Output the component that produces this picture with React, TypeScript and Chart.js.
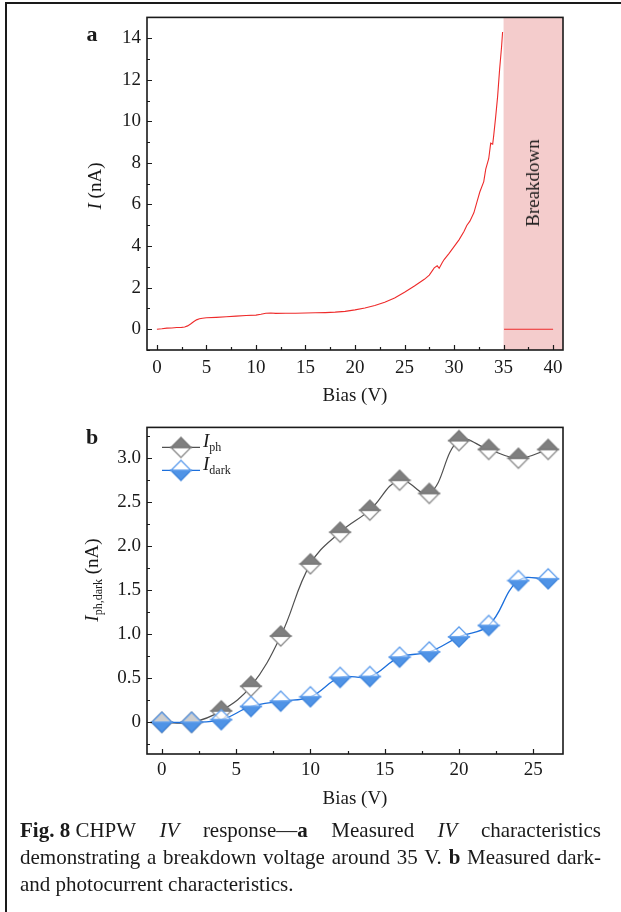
import React, { useEffect, useRef } from 'react';
import { Chart, registerables } from 'chart.js';

Chart.register(...registerables);

// ---------- Panel a: IV curve ----------
const ivBias = [
  0, 0.5, 1, 1.5, 2, 2.5, 2.8, 3.1, 3.4, 3.7, 4.0, 4.3, 4.6, 5, 6, 7, 8, 9, 10, 10.5,
  11, 11.5, 12, 13, 14, 15, 16, 17, 18, 19, 20, 21, 22, 23, 24, 25, 26, 27, 27.5, 28,
  28.3, 28.5, 28.8, 29, 29.5, 30, 30.5, 31, 31.3, 31.6, 32, 32.3, 32.6, 33, 33.2, 33.5,
  33.7, 33.9, 34.0, 34.2, 34.4, 34.6, 34.8, 34.9,
];
const ivCurrent = [
  0.0, 0.02, 0.05, 0.06, 0.08, 0.09, 0.11, 0.16, 0.25, 0.36, 0.45, 0.5, 0.53, 0.55, 0.57, 0.6, 0.63, 0.66, 0.68, 0.72,
  0.77, 0.78, 0.76, 0.77, 0.77, 0.78, 0.79, 0.8, 0.82, 0.86, 0.93, 1.02, 1.14, 1.3, 1.5, 1.78, 2.08, 2.4, 2.6, 2.95,
  3.05, 2.93, 3.2, 3.35, 3.65, 3.97, 4.3, 4.7, 5.0, 5.2, 5.6, 6.1, 6.6, 7.1, 7.7, 8.2,
  8.95, 8.9, 9.3, 10.2, 11.2, 12.5, 13.6, 14.3,
];
const breakdownBias = [35.05, 40];
const breakdownCurrent = [0, 0];
const breakdownStart = 35;

const xTicksA = [0, 5, 10, 15, 20, 25, 30, 35, 40];
const yTicksA = [0, 2, 4, 6, 8, 10, 12, 14];

// ---------- Panel b: photo / dark current ----------
const biasB = [0, 2, 4, 6, 8, 10, 12, 14, 16, 18, 20, 22, 24, 26];
const iPh = [0, 0, 0.13, 0.41, 0.98, 1.8, 2.16, 2.41, 2.75, 2.6, 3.2, 3.1, 3.0, 3.1];
const iDark = [0, 0, 0.03, 0.18, 0.24, 0.29, 0.51, 0.52, 0.74, 0.8, 0.97, 1.1, 1.61, 1.63];

const xTicksB = [0, 5, 10, 15, 20, 25];
const yTicksB = [0, 0.5, 1, 1.5, 2, 2.5, 3];

const FONT = '"Liberation Serif", "Times New Roman", serif';
const TEXT = '#1a1a1a';

function makeDiamond(r: number, topFill: string, topStroke: string, botFill: string, botStroke: string) {
  const size = 2 * r + 4;
  const c = document.createElement('canvas');
  c.width = size;
  c.height = size;
  const ctx = c.getContext('2d')!;
  const m = size / 2;
  ctx.lineWidth = 1.3;
  ctx.lineJoin = 'miter';
  // bottom half
  ctx.beginPath();
  ctx.moveTo(m - r, m);
  ctx.lineTo(m, m + r);
  ctx.lineTo(m + r, m);
  ctx.closePath();
  ctx.fillStyle = botFill;
  ctx.fill();
  ctx.strokeStyle = botStroke;
  ctx.stroke();
  // top half
  ctx.beginPath();
  ctx.moveTo(m - r, m);
  ctx.lineTo(m, m - r);
  ctx.lineTo(m + r, m);
  ctx.closePath();
  ctx.fillStyle = topFill;
  ctx.fill();
  ctx.strokeStyle = topStroke;
  ctx.stroke();
  return c;
}

function frameTicks(majorX: number, minorX: number, majorY: number, minorY: number) {
  return {
    id: 'frameTicks',
    afterDraw(chart: any) {
      const { ctx, chartArea: ca } = chart;
      const x = chart.scales.x;
      const y = chart.scales.y;
      ctx.save();
      ctx.strokeStyle = '#1a1a1a';
      ctx.lineWidth = 1.2;
      ctx.beginPath();
      const loopX = (step: number, len: number) => {
        for (let v = Math.ceil(x.min / step) * step; v <= x.max + 1e-9; v += step) {
          const px = Math.round(x.getPixelForValue(v)) + 0.5;
          ctx.moveTo(px, ca.bottom);
          ctx.lineTo(px, ca.bottom - len);
        }
      };
      const loopY = (step: number, len: number) => {
        for (let v = Math.ceil(y.min / step) * step; v <= y.max + 1e-9; v += step) {
          const py = Math.round(y.getPixelForValue(v)) + 0.5;
          ctx.moveTo(ca.left, py);
          ctx.lineTo(ca.left + len, py);
        }
      };
      loopX(minorX, 3);
      loopX(majorX, 5);
      loopY(minorY, 3);
      loopY(majorY, 5);
      ctx.stroke();
      ctx.lineWidth = 1.6;
      ctx.strokeRect(ca.left, ca.top, ca.right - ca.left, ca.bottom - ca.top);
      ctx.restore();
    },
  };
}

const breakdownShade = {
  id: 'breakdownShade',
  beforeDatasetsDraw(chart: any) {
    const { ctx, chartArea: ca } = chart;
    const x0 = chart.scales.x.getPixelForValue(breakdownStart);
    ctx.save();
    ctx.fillStyle = '#f4cccc';
    ctx.fillRect(x0, ca.top, ca.right - x0, ca.bottom - ca.top);
    ctx.restore();
  },
};

function scaleOpts(min: number, max: number, ticks: number[], fmt: (v: number) => string, isX: boolean, pad: number) {
  return {
    type: 'linear' as const,
    min,
    max,
    afterBuildTicks: (s: any) => {
      s.ticks = ticks.map((v) => ({ value: v }));
    },
    afterFit: (s: any) => {
      if (isX) s.height = 50;
      else s.width = 60;
    },
    grid: { display: false, drawTicks: false },
    border: { display: false },
    ticks: {
      autoSkip: false,
      maxRotation: 0,
      padding: pad,
      color: TEXT,
      font: { family: FONT, size: 19 },
      callback: (v: any) => fmt(Number(v)),
    },
  };
}

export default function App() {
  const refA = useRef<HTMLCanvasElement>(null);
  const refB = useRef<HTMLCanvasElement>(null);

  useEffect(() => {
    const chartA = new Chart(refA.current!, {
      type: 'line',
      data: {
        datasets: [
          {
            data: ivBias.map((b, i) => ({ x: b, y: ivCurrent[i] })),
            borderColor: '#ee2b2b',
            borderWidth: 1.1,
            pointRadius: 0,
            tension: 0,
          },
          {
            data: breakdownBias.map((b, i) => ({ x: b, y: breakdownCurrent[i] })),
            borderColor: '#ee2b2b',
            borderWidth: 1.1,
            pointRadius: 0,
            tension: 0,
          },
        ],
      },
      options: {
        responsive: false,
        devicePixelRatio: 1,
        animation: false,
        events: [],
        layout: { padding: { left: 87, right: 58, top: 17, bottom: 10 } },
        plugins: { legend: { display: false }, tooltip: { enabled: false } },
        scales: {
          x: scaleOpts(-1, 41, xTicksA, (v) => String(v), true, 7),
          y: scaleOpts(-1, 15, yTicksA, (v) => String(v), false, 6),
        },
      },
      plugins: [breakdownShade, frameTicks(5, 2.5, 2, 1)],
    });

    const phImg = makeDiamond(10, '#7f7f7f', '#7a7a7a', '#ffffff', '#8a8a8a');
    const darkImg = makeDiamond(10, 'rgba(255,255,255,0.62)', '#5c9cec', '#4f93e6', '#3f85dc');

    const legendPlugin = {
      id: 'legendMarks',
      afterDraw(chart: any) {
        const { ctx, chartArea: ca } = chart;
        const rows = [
          { dy: 20, color: '#505050', img: phImg },
          { dy: 43, color: '#1c6fdc', img: darkImg },
        ];
        ctx.save();
        rows.forEach((r) => {
          const yy = ca.top + r.dy;
          ctx.strokeStyle = r.color;
          ctx.lineWidth = 1.3;
          ctx.beginPath();
          ctx.moveTo(ca.left + 15, yy);
          ctx.lineTo(ca.left + 53, yy);
          ctx.stroke();
          ctx.drawImage(r.img, ca.left + 34 - r.img.width / 2, yy - r.img.height / 2);
        });
        ctx.restore();
      },
    };

    const chartB = new Chart(refB.current!, {
      type: 'line',
      data: {
        datasets: [
          {
            data: biasB.map((b, i) => ({ x: b, y: iPh[i] })),
            borderColor: '#505050',
            borderWidth: 1.2,
            tension: 0.4,
            pointStyle: phImg as any,
            pointRadius: 10,
            order: 1,
          },
          {
            data: biasB.map((b, i) => ({ x: b, y: iDark[i] })),
            borderColor: '#1c6fdc',
            borderWidth: 1.3,
            tension: 0.4,
            pointStyle: darkImg as any,
            pointRadius: 10,
            order: 0,
          },
        ],
      },
      options: {
        responsive: false,
        devicePixelRatio: 1,
        animation: false,
        events: [],
        layout: { padding: { left: 87, right: 58, top: 11, bottom: 16 } },
        plugins: { legend: { display: false }, tooltip: { enabled: false } },
        scales: {
          x: scaleOpts(-1, 27, xTicksB, (v) => String(v), true, 5),
          y: scaleOpts(-0.36, 3.35, yTicksB, (v) => (v === 0 ? '0' : v.toFixed(1)), false, 6),
        },
      },
      plugins: [frameTicks(5, 2.5, 0.5, 0.25), legendPlugin],
    });

    return () => {
      chartA.destroy();
      chartB.destroy();
    };
  }, []);

  const abs = (left: number, top: number, extra: React.CSSProperties = {}): React.CSSProperties => ({
    position: 'absolute',
    left,
    top,
    whiteSpace: 'nowrap',
    ...extra,
  });
  const centered = 'translate(-50%, -50%)';
  const rotated = 'translate(-50%, -50%) rotate(-90deg)';
  const sub: React.CSSProperties = { fontSize: 12, position: 'relative', top: 4 };
  const capLine: React.CSSProperties = {
    position: 'absolute',
    left: 20,
    width: 581,
    height: 27,
    lineHeight: '27px',
    fontSize: 21,
    whiteSpace: 'nowrap',
  };

  return (
    <div
      style={{
        position: 'absolute',
        left: 0,
        top: 0,
        width: 621,
        height: 912,
        overflow: 'hidden',
        background: '#fff',
        fontFamily: FONT,
        color: TEXT,
      }}
    >
      <div style={{ position: 'absolute', left: 5, top: 2, width: 700, height: 1000, border: '2px solid #1a1a1a' }} />

      <canvas ref={refA} width={621} height={410} style={{ position: 'absolute', left: 0, top: 0, width: 621, height: 410 }} />
      <canvas ref={refB} width={621} height={410} style={{ position: 'absolute', left: 0, top: 410, width: 621, height: 410 }} />

      {/* panel a texts */}
      <div style={abs(92, 34, { transform: centered, fontSize: 22, fontWeight: 'bold' })}>a</div>
      <div style={abs(95, 186, { transform: rotated, fontSize: 19 })}>
        <i>I</i> (nA)
      </div>
      <div style={abs(355, 395, { transform: centered, fontSize: 19 })}>Bias (V)</div>
      <div style={abs(533, 183, { transform: rotated, fontSize: 19 })}>Breakdown</div>

      {/* panel b texts */}
      <div style={abs(92, 437, { transform: centered, fontSize: 22, fontWeight: 'bold' })}>b</div>
      <div style={abs(92, 580, { transform: rotated, fontSize: 19 })}>
        <i>I</i>
        <span style={sub}>ph,dark</span> (nA)
      </div>
      <div style={abs(355, 798, { transform: centered, fontSize: 19 })}>Bias (V)</div>
      <div style={abs(203, 441, { transform: 'translateY(-50%)', fontSize: 19 })}>
        <i>I</i>
        <span style={sub}>ph</span>
      </div>
      <div style={abs(203, 464, { transform: 'translateY(-50%)', fontSize: 19 })}>
        <i>I</i>
        <span style={sub}>dark</span>
      </div>

      {/* caption */}
      <div style={{ ...capLine, top: 817, textAlign: 'justify', textAlignLast: 'justify' } as React.CSSProperties}>
        <span style={{ display: 'inline-block' }}>
          <b>Fig. 8</b> CHPW
        </span>{' '}
        <i>IV</i> response—<b>a</b> Measured <i>IV</i> characteristics
      </div>
      <div style={{ ...capLine, top: 844, textAlign: 'justify', textAlignLast: 'justify' } as React.CSSProperties}>
        demonstrating a breakdown voltage around 35 V. <b>b</b> Measured dark-
      </div>
      <div style={{ ...capLine, top: 871 }}>and photocurrent characteristics.</div>
    </div>
  );
}
